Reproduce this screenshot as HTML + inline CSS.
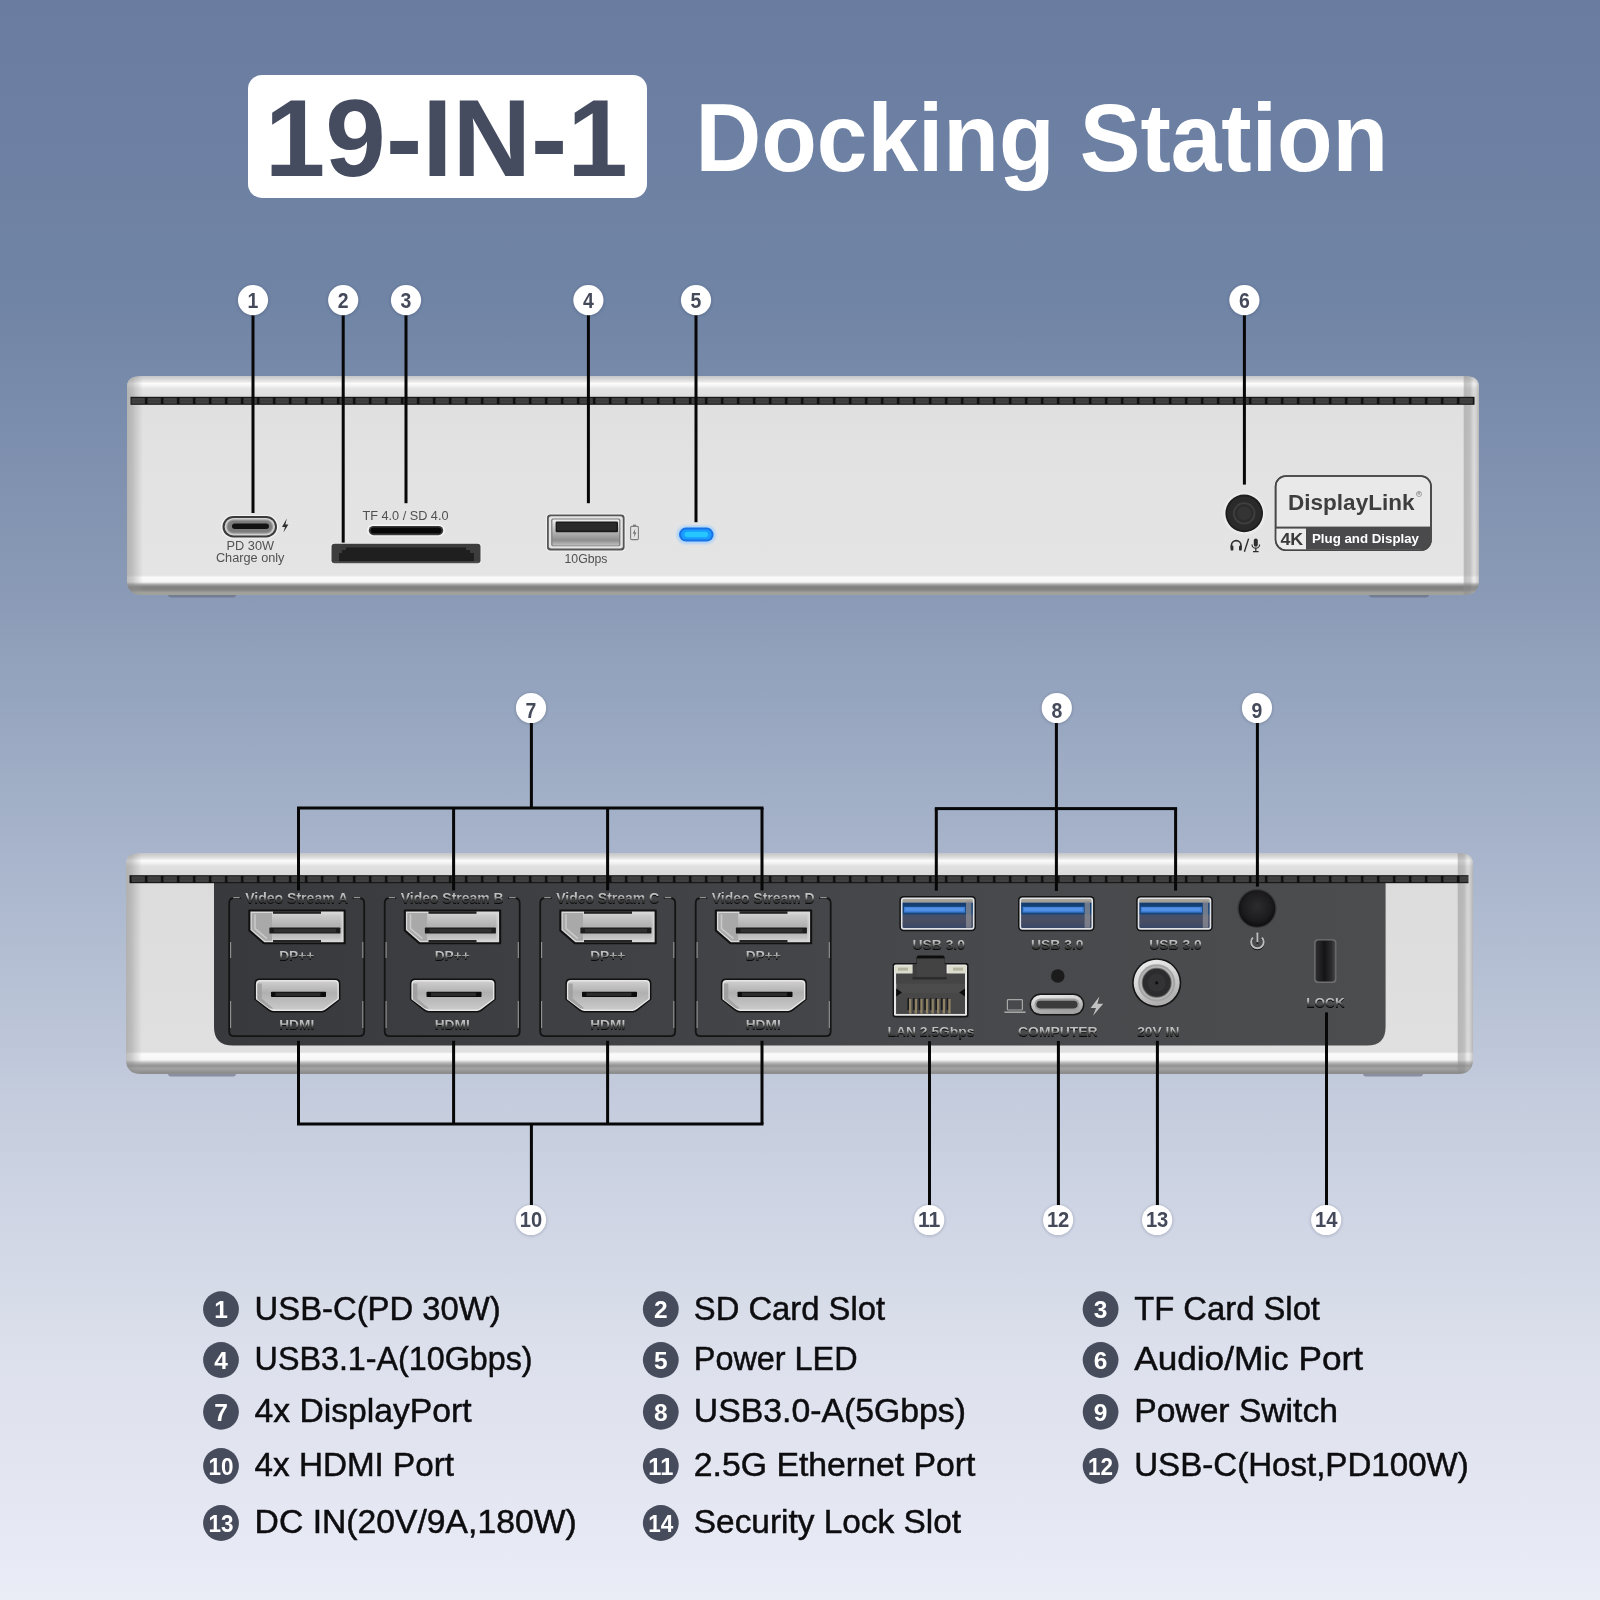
<!DOCTYPE html>
<html><head><meta charset="utf-8">
<style>
html,body{margin:0;padding:0;width:1600px;height:1600px;overflow:hidden;}
body{background:linear-gradient(180deg,#6a7da1 0px,#7084a5 300px,#8b9bb7 600px,#a7b4cb 850px,#c4ccdd 1100px,#dce0ec 1350px,#eaecf6 1600px);font-family:"Liberation Sans",sans-serif;}
svg{position:absolute;left:0;top:0;will-change:transform;}
text{font-family:"Liberation Sans",sans-serif;}
</style></head><body>
<svg width="1600" height="1600" viewBox="0 0 1600 1600">
<defs>
<linearGradient id="bodyV1" gradientUnits="userSpaceOnUse" x1="0" y1="376" x2="0" y2="596">
 <stop offset="0" stop-color="#c2c4c6"/>
 <stop offset="0.012" stop-color="#d4d4d4"/>
 <stop offset="0.024" stop-color="#e6e6e6"/>
 <stop offset="0.034" stop-color="#fbfbfb"/>
 <stop offset="0.044" stop-color="#f4f4f4"/>
 <stop offset="0.058" stop-color="#e4e4e4"/>
 <stop offset="0.095" stop-color="#dedede"/>
 <stop offset="0.14" stop-color="#e0e0e0"/>
 <stop offset="0.5" stop-color="#e3e3e3"/>
 <stop offset="0.905" stop-color="#e4e4e4"/>
 <stop offset="0.916" stop-color="#fbfbfb"/>
 <stop offset="0.936" stop-color="#f6f6f6"/>
 <stop offset="0.948" stop-color="#a6a6a6"/>
 <stop offset="0.958" stop-color="#808080"/>
 <stop offset="0.972" stop-color="#848484"/>
 <stop offset="0.984" stop-color="#a0a09a"/>
 <stop offset="1" stop-color="#a4a49e"/>
</linearGradient>
<linearGradient id="bodyV2" gradientUnits="userSpaceOnUse" x1="0" y1="853" x2="0" y2="1075">
 <stop offset="0" stop-color="#c2c4c6"/>
 <stop offset="0.012" stop-color="#d2d2d2"/>
 <stop offset="0.024" stop-color="#e4e4e4"/>
 <stop offset="0.034" stop-color="#fbfbfb"/>
 <stop offset="0.045" stop-color="#f2f2f2"/>
 <stop offset="0.060" stop-color="#e0e0e0"/>
 <stop offset="0.10" stop-color="#dadada"/>
 <stop offset="0.14" stop-color="#dcdcdc"/>
 <stop offset="0.5" stop-color="#dedede"/>
 <stop offset="0.895" stop-color="#e0e0e0"/>
 <stop offset="0.905" stop-color="#fbfbfb"/>
 <stop offset="0.932" stop-color="#f6f6f6"/>
 <stop offset="0.946" stop-color="#b4b4b4"/>
 <stop offset="0.958" stop-color="#929292"/>
 <stop offset="0.972" stop-color="#a2a2a2"/>
 <stop offset="0.988" stop-color="#8e8e8e"/>
 <stop offset="1" stop-color="#8c8c8e"/>
</linearGradient>
<linearGradient id="bevL" x1="0" y1="0" x2="1" y2="0">
 <stop offset="0" stop-color="#8c8c8c" stop-opacity="0.55"/>
 <stop offset="0.35" stop-color="#8c8c8c" stop-opacity="0.42"/>
 <stop offset="0.7" stop-color="#9a9a9a" stop-opacity="0.22"/>
 <stop offset="1" stop-color="#a0a0a0" stop-opacity="0"/>
</linearGradient>
<linearGradient id="bevR" x1="1" y1="0" x2="0" y2="0">
 <stop offset="0" stop-color="#8c8c8c" stop-opacity="0.5"/>
 <stop offset="0.3" stop-color="#c0c0c0" stop-opacity="0.2"/>
 <stop offset="0.55" stop-color="#8e8e8e" stop-opacity="0.42"/>
 <stop offset="0.9" stop-color="#8c8c8c" stop-opacity="0.5"/>
 <stop offset="1" stop-color="#8c8c8c" stop-opacity="0"/>
</linearGradient>
<pattern id="vent1" width="16" height="8" patternUnits="userSpaceOnUse" patternTransform="translate(130,396.8)">
 <rect x="0" y="0" width="16" height="8" fill="#111111"/>
 <rect x="1.6" y="1.1" width="13.2" height="5.8" fill="#424242"/>
 <rect x="1.6" y="3.4" width="13.2" height="1.2" fill="#383838"/>
</pattern>
<pattern id="vent2" width="16" height="8" patternUnits="userSpaceOnUse" patternTransform="translate(130,875.2)">
 <rect x="0" y="0" width="16" height="8" fill="#111111"/>
 <rect x="1.6" y="1.1" width="13.2" height="5.8" fill="#424242"/>
 <rect x="1.6" y="3.4" width="13.2" height="1.2" fill="#383838"/>
</pattern>
<filter id="sh" x="-30%" y="-30%" width="160%" height="160%">
 <feGaussianBlur in="SourceAlpha" stdDeviation="1.6"/>
 <feOffset dx="0" dy="1" result="o"/>
 <feComponentTransfer><feFuncA type="linear" slope="0.35"/></feComponentTransfer>
 <feMerge><feMergeNode/><feMergeNode in="SourceGraphic"/></feMerge>
</filter>
<filter id="blur1"><feGaussianBlur stdDeviation="1"/></filter>
<filter id="blur2"><feGaussianBlur stdDeviation="2"/></filter>
<filter id="blur05"><feGaussianBlur stdDeviation="0.6"/></filter>
<linearGradient id="silverV" x1="0" y1="0" x2="0" y2="1">
 <stop offset="0" stop-color="#e8e8e8"/>
 <stop offset="0.5" stop-color="#bdbdbd"/>
 <stop offset="1" stop-color="#dcdcdc"/>
</linearGradient>
<linearGradient id="usbaIn" x1="0" y1="0" x2="0" y2="1">
 <stop offset="0" stop-color="#f0f0f0"/>
 <stop offset="0.45" stop-color="#b8b8b8"/>
 <stop offset="0.8" stop-color="#8e8e8e"/>
 <stop offset="1" stop-color="#c0c0c0"/>
</linearGradient>
<linearGradient id="usb3In" x1="0" y1="0" x2="0" y2="1">
 <stop offset="0" stop-color="#3a78c8"/>
 <stop offset="0.45" stop-color="#2c5ea8"/>
 <stop offset="1" stop-color="#2a4f8c"/>
</linearGradient>

<linearGradient id="embG" x1="0" y1="0" x2="0" y2="1">
 <stop offset="0" stop-color="#cccccc"/>
 <stop offset="0.44" stop-color="#b8b8b8"/>
 <stop offset="0.56" stop-color="#747474"/>
 <stop offset="0.68" stop-color="#3c3c3c"/>
 <stop offset="1" stop-color="#262626"/>
</linearGradient>
<linearGradient id="panelG" gradientUnits="userSpaceOnUse" x1="214" y1="0" x2="1386" y2="0">
 <stop offset="0" stop-color="#38393c"/>
 <stop offset="0.35" stop-color="#404144"/>
 <stop offset="0.6" stop-color="#47484b"/>
 <stop offset="1" stop-color="#4c4d4f"/>
</linearGradient>
<linearGradient id="dpG" x1="0" y1="0" x2="0" y2="1">
 <stop offset="0" stop-color="#d6d6d6"/>
 <stop offset="0.5" stop-color="#bcbcbc"/>
 <stop offset="1" stop-color="#d2d2d2"/>
</linearGradient>
<linearGradient id="dpIn" x1="0" y1="0" x2="0" y2="1">
 <stop offset="0" stop-color="#cccccc"/>
 <stop offset="0.45" stop-color="#b2b2b2"/>
 <stop offset="0.8" stop-color="#b8b8b8"/>
 <stop offset="1" stop-color="#c8c8c8"/>
</linearGradient>
<linearGradient id="hdG" x1="0" y1="0" x2="0" y2="1">
 <stop offset="0" stop-color="#cecece"/>
 <stop offset="0.4" stop-color="#b0b0b0"/>
 <stop offset="0.75" stop-color="#bebebe"/>
 <stop offset="1" stop-color="#cacaca"/>
</linearGradient>
<linearGradient id="u3G" x1="0" y1="0" x2="0" y2="1">
 <stop offset="0" stop-color="#aaa69c"/>
 <stop offset="0.1" stop-color="#a29e96"/>
 <stop offset="0.15" stop-color="#143d72"/>
 <stop offset="0.5" stop-color="#174679"/>
 <stop offset="0.56" stop-color="#46506a"/>
 <stop offset="0.75" stop-color="#4a4e62"/>
 <stop offset="1" stop-color="#384868"/>
</linearGradient>
<linearGradient id="ucG" x1="0" y1="0" x2="0.3" y2="1">
 <stop offset="0" stop-color="#f0f0f0"/>
 <stop offset="0.5" stop-color="#c9c9c9"/>
 <stop offset="1" stop-color="#a2a2a2"/>
</linearGradient>
<linearGradient id="dcS" x1="0" y1="0" x2="0.4" y2="1">
 <stop offset="0" stop-color="#f2f2f2"/>
 <stop offset="0.5" stop-color="#d6d6d6"/>
 <stop offset="1" stop-color="#b0b0b0"/>
</linearGradient>
<linearGradient id="lockG" x1="0" y1="0" x2="1" y2="0">
 <stop offset="0" stop-color="#2e2e30"/>
 <stop offset="0.45" stop-color="#141416"/>
 <stop offset="0.8" stop-color="#2a2a2c"/>
 <stop offset="1" stop-color="#48484a"/>
</linearGradient>
<radialGradient id="jack" cx="0.5" cy="0.5" r="0.5">
 <stop offset="0" stop-color="#2a2a2a"/>
 <stop offset="0.42" stop-color="#2e2e2e"/>
 <stop offset="0.5" stop-color="#4a4a4a"/>
 <stop offset="0.58" stop-color="#1a1a1a"/>
 <stop offset="1" stop-color="#141414"/>
</radialGradient>
<radialGradient id="pwr" cx="0.5" cy="0.45" r="0.55">
 <stop offset="0" stop-color="#2c2c2e"/>
 <stop offset="0.7" stop-color="#1c1c1e"/>
 <stop offset="1" stop-color="#0e0e10"/>
</radialGradient>
<radialGradient id="dcring" cx="0.5" cy="0.5" r="0.5">
 <stop offset="0" stop-color="#111"/>
 <stop offset="0.1" stop-color="#555"/>
 <stop offset="0.16" stop-color="#2a2a2a"/>
 <stop offset="0.52" stop-color="#4a4a4c"/>
 <stop offset="0.58" stop-color="#8a8a8a"/>
 <stop offset="0.66" stop-color="#e4e4e4"/>
 <stop offset="0.86" stop-color="#cfcfcf"/>
 <stop offset="0.95" stop-color="#9a9a9a"/>
 <stop offset="1" stop-color="#2a2a2c"/>
</radialGradient>
</defs>
<g id="title">
<rect x="248" y="75" width="399" height="123" rx="14" ry="14" fill="#ffffff"/>
<text x="264.8" y="176" font-size="110" font-weight="bold" fill="#454c60" textLength="363" lengthAdjust="spacingAndGlyphs">19-IN-1</text>
<text x="695.5" y="171.4" font-size="96" font-weight="bold" fill="#ffffff" textLength="692.6" lengthAdjust="spacingAndGlyphs">Docking Station</text>
</g>
<g id="dev1"><rect x="168" y="591" width="68" height="6.4" rx="3" fill="#646a7c" opacity="0.6" filter="url(#blur05)"/><rect x="1369" y="591" width="60" height="6.4" rx="3" fill="#646a7c" opacity="0.6" filter="url(#blur05)"/><clipPath id="clip376"><path d="M141,376 H1465 Q1479,376 1479,387 V580 Q1479,595 1464,595 H142 Q127,595 127,580 V387 Q127,376 141,376 Z"/></clipPath><g clip-path="url(#clip376)"><rect x="127" y="376" width="1352" height="219" fill="url(#bodyV1)"/><rect x="127" y="376" width="16" height="219" fill="url(#bevL)"/><rect x="1463" y="376" width="16" height="219" fill="url(#bevR)"/><rect x="130.5" y="396.8" width="1344" height="8.0" fill="url(#vent1)"/></g>
<!-- USB-C front -->
<rect x="221" y="515" width="57.5" height="23.5" rx="11.7" fill="#ffffff" opacity="0.55" filter="url(#blur05)"/>
<rect x="222.5" y="516" width="54.5" height="21.4" rx="10.7" fill="#3b3b3b"/>
<rect x="224.6" y="518" width="50.4" height="17.4" rx="8.7" fill="#cfcfcf"/>
<rect x="226.4" y="519.6" width="46.8" height="14.2" rx="7.1" fill="#9a9a9a"/>
<rect x="227.6" y="520.8" width="44.4" height="11.8" rx="5.9" fill="#7d7d7d"/>
<rect x="232" y="523.6" width="37" height="5.4" rx="2.7" fill="#131313"/>
<path d="M286.8,518.6 L282,527 H285 L283.4,532.6 L288.4,524.4 H285.4 Z" fill="#2e2e2e"/>
<text x="250.3" y="550" font-size="12.5" text-anchor="middle" fill="#525252" textLength="47.5" lengthAdjust="spacingAndGlyphs">PD 30W</text>
<text x="250.2" y="561.6" font-size="12.5" text-anchor="middle" fill="#525252" textLength="68.5" lengthAdjust="spacingAndGlyphs">Charge only</text>
<!-- SD slot -->
<rect x="330.5" y="543" width="151" height="21" rx="3.5" fill="#f4f4f4" opacity="0.7" filter="url(#blur05)"/>
<rect x="331.5" y="543.8" width="149" height="19.4" rx="3" fill="#3d3d3d"/>
<path d="M339,561.5 V553 H342 V550 H346 V547.5 H466 V550 H470 V553 H474 V561.5 Z" fill="#1f1f1f"/>
<rect x="333" y="561.4" width="146" height="1.4" fill="#585858" opacity="0.7"/>
<!-- TF slot -->
<rect x="367" y="524.6" width="78" height="12" rx="6" fill="#ffffff" opacity="0.6" filter="url(#blur05)"/>
<rect x="368.8" y="526" width="74.4" height="9.2" rx="4.6" fill="#3a3a3a"/>
<rect x="370.6" y="527.4" width="70.8" height="6.2" rx="3.1" fill="#080808"/>
<text x="362.5" y="519.6" font-size="13" fill="#505050" textLength="86" lengthAdjust="spacingAndGlyphs">TF 4.0 / SD 4.0</text>
<!-- USB-A front -->
<rect x="546" y="513.4" width="79.6" height="38" rx="4" fill="#ffffff" opacity="0.5" filter="url(#blur05)"/>
<rect x="547" y="514.4" width="77.6" height="36" rx="3.4" fill="#565656"/>
<rect x="548.8" y="516.2" width="74" height="32.4" rx="2.4" fill="#e4e4e4"/>
<rect x="551.2" y="518.6" width="69.2" height="27.6" rx="1.6" fill="#7a7a7a"/>
<rect x="552.4" y="519.6" width="66.8" height="25.8" rx="1.2" fill="url(#usbaIn)"/>
<rect x="555.6" y="521.6" width="62.4" height="10.6" rx="1.2" fill="#1b1b1b"/>
<rect x="557" y="523" width="59.6" height="7.6" rx="1" fill="#2b2b2b"/>
<!-- battery icon -->
<rect x="630.6" y="526.4" width="7.8" height="13.2" rx="1.2" fill="none" stroke="#7d7d7d" stroke-width="1.1"/>
<rect x="633" y="524.6" width="3" height="1.8" fill="#7d7d7d"/>
<path d="M635.4,528.6 L632.8,533.4 H634.6 L633.8,537.4 L636.4,532.4 H634.6 Z" fill="#666"/>
<text x="586" y="562.7" font-size="13" text-anchor="middle" fill="#505050" textLength="43" lengthAdjust="spacingAndGlyphs">10Gbps</text>
<!-- LED -->
<rect x="676.5" y="525.5" width="39.5" height="18.5" rx="9.2" fill="#9ccfff" opacity="0.75" filter="url(#blur1)"/>
<rect x="679" y="527.6" width="34.6" height="14" rx="7" fill="#1972e6"/>
<rect x="681" y="529.6" width="30.6" height="10" rx="5" fill="#189cff"/>
<rect x="684.6" y="531.8" width="23.4" height="5.4" rx="2.7" fill="#26c6ff" filter="url(#blur05)"/>
<!-- audio jack -->
<circle cx="1244.2" cy="513.6" r="20.4" fill="#ffffff" opacity="0.5" filter="url(#blur1)"/>
<circle cx="1244.2" cy="513.4" r="18.8" fill="#1d1d1d"/>
<circle cx="1244.2" cy="513.4" r="17" fill="#2a2a2a"/>
<circle cx="1244.2" cy="513.4" r="11.2" fill="#3f3f3f"/>
<circle cx="1244.2" cy="513.4" r="9.4" fill="#2c2c2c"/>
<circle cx="1244.2" cy="513.4" r="7" fill="#343434"/>
<!-- headphone/mic -->
<g fill="none" stroke="#2e2e2e" stroke-width="1.6" stroke-linecap="round">
<path d="M1231.4,547.6 V545.4 A4.8,4.8 0 0 1 1241,545.4 V547.6"/>
</g>
<rect x="1230.6" y="545.6" width="2.8" height="5" rx="1.2" fill="#2e2e2e"/>
<rect x="1239" y="545.6" width="2.8" height="5" rx="1.2" fill="#2e2e2e"/>
<path d="M1248.6,538.6 L1244.4,551.8" stroke="#2e2e2e" stroke-width="1.4" fill="none"/>
<rect x="1253.8" y="538.4" width="4" height="8.4" rx="2" fill="#2e2e2e"/>
<path d="M1252,544.4 A3.8,3.8 0 0 0 1259.6,544.4 M1255.8,548.4 V551.2 M1253,551.6 H1258.6" stroke="#2e2e2e" stroke-width="1.2" fill="none"/>
<!-- DisplayLink badge -->
<clipPath id="dlc"><rect x="1276" y="476.6" width="154.4" height="73" rx="9.6"/></clipPath>
<rect x="1275.6" y="476" width="155.4" height="74.2" rx="10.4" fill="#e9e9e9" stroke="#474747" stroke-width="1.6"/>
<g clip-path="url(#dlc)">
<rect x="1275" y="526.6" width="158" height="26" fill="#4a4a4c"/>
<rect x="1275" y="528.6" width="31" height="24" fill="#ececec"/>
</g>
<rect x="1275.6" y="476" width="155.4" height="74.2" rx="10.4" fill="none" stroke="#474747" stroke-width="1.6"/>
<text x="1288" y="510" font-size="21.6" font-weight="bold" fill="#3e3e3e" textLength="126.5" lengthAdjust="spacingAndGlyphs">DisplayLink</text>
<circle cx="1419" cy="494" r="2.6" fill="none" stroke="#8a8a8a" stroke-width="0.7"/>
<text x="1419" y="495.4" font-size="4" font-weight="bold" text-anchor="middle" fill="#8a8a8a">R</text>
<text x="1280.4" y="545.3" font-size="16.6" font-weight="bold" fill="#3a3a3a" textLength="22.8" lengthAdjust="spacingAndGlyphs">4K</text>
<text x="1312" y="543.3" font-size="13" font-weight="bold" fill="#ffffff" textLength="107" lengthAdjust="spacingAndGlyphs">Plug and Display</text>
</g>
<g id="dev2"><rect x="168" y="1070" width="68" height="6.4" rx="3" fill="#646a7c" opacity="0.6" filter="url(#blur05)"/><rect x="1363" y="1070" width="60" height="6.4" rx="3" fill="#646a7c" opacity="0.6" filter="url(#blur05)"/><clipPath id="clip853"><path d="M140,853 H1459 Q1473,853 1473,864 V1059 Q1473,1074 1458,1074 H141 Q126,1074 126,1059 V864 Q126,853 140,853 Z"/></clipPath><g clip-path="url(#clip853)"><rect x="126" y="853" width="1347" height="221" fill="url(#bodyV2)"/><path d="M214,883 H1385.6 V1027 Q1385.6,1045.6 1367,1045.6 H233 Q214,1045.6 214,1027 Z" fill="url(#panelG)"/><rect x="126" y="853" width="16" height="221" fill="url(#bevL)"/><rect x="1457" y="853" width="16" height="221" fill="url(#bevR)"/><rect x="129.5" y="875.2" width="1339" height="8.0" fill="url(#vent2)"/></g><path d="M240.7,898.2 H234.2 Q229.2,898.2 229.2,903.2 V1031.2 Q229.2,1036.2 234.2,1036.2 H359.2 Q364.2,1036.2 364.2,1031.2 V903.2 Q364.2,898.2 359.2,898.2 H352.7" fill="none" stroke="#141414" stroke-width="1.8"/><path d="M233.2,897.6 H239.7 M353.7,897.6 H360.2" stroke="#a4a4a4" stroke-width="1.1" fill="none" opacity="0.85"/><path d="M230.6,942 V958 M230.6,1001 V1028 M362.8,942 V958 M362.8,1001 V1028" stroke="#a4a4a4" stroke-width="1.1" fill="none" opacity="0.85"/><text x="296.7" y="903.6999999999999" font-size="14" font-weight="bold" text-anchor="middle" fill="#0c0c0c" textLength="103" lengthAdjust="spacingAndGlyphs">Video Stream A</text><text x="296.7" y="902.8" font-size="14" font-weight="bold" text-anchor="middle" fill="url(#embG)" textLength="103" lengthAdjust="spacingAndGlyphs">Video Stream A</text><path d="M249.0,910.2 H345.0 V943.6 H264.0 L249.0,930.6 Z" fill="#111" stroke="#111" stroke-width="1.4" stroke-linejoin="round"/><path d="M250.4,911.6 H343.6 V942.2 H264.4 L250.4,930.1 Z" fill="#d9d9d9"/><path d="M251.8,913.0 H342.2 V940.8000000000001 H265.0 L251.8,929.6 Z" fill="url(#dpG)"/><rect x="273.0" y="911.2" width="48" height="2.6" fill="#242424"/><rect x="273.0" y="940.0" width="48" height="2.6" fill="#242424"/><path d="M251.8,913.0 H272.0 V940.8000000000001 H265.0 L251.8,929.6 Z" fill="#a9a9a9"/><path d="M255.0,914.2 V928.6 L267.0,938.6" fill="none" stroke="#c9c9c9" stroke-width="1.6"/><rect x="272.0" y="914.6" width="68.6" height="24.599999999999998" fill="url(#dpIn)"/><rect x="269.4" y="927.6" width="71" height="6" rx="0.6" fill="#1c1c1c"/><rect x="274.0" y="928.8000000000001" width="62" height="3.6" fill="#303030"/><text x="296.7" y="961.0999999999999" font-size="13.5" font-weight="bold" text-anchor="middle" fill="#0c0c0c" textLength="35" lengthAdjust="spacingAndGlyphs">DP++</text><text x="296.7" y="960.1999999999999" font-size="13.5" font-weight="bold" text-anchor="middle" fill="url(#embG)" textLength="35" lengthAdjust="spacingAndGlyphs">DP++</text><path d="M259.4,978.6 H335.4 Q340.4,978.6 340.4,983.6 V999.6 L326.79999999999995,1010.6 Q325.0,1012.4 322.4,1012.4 H272.4 Q269.79999999999995,1012.4 268.0,1010.6 L254.39999999999998,999.6 V983.6 Q254.39999999999998,978.6 259.4,978.6 Z" fill="#111"/><path d="M259.9,980.1 H334.9 Q338.9,980.1 338.9,984.1 V999.15 L326.04999999999995,1009.1 Q324.25,1010.9 321.65,1010.9 H273.15 Q270.54999999999995,1010.9 268.75,1009.1 L255.89999999999998,999.15 V984.1 Q255.89999999999998,980.1 259.9,980.1 Z" fill="#e6e6e6"/><path d="M260.49999999999994,981.5 H334.3 Q337.5,981.5 337.5,984.7 V998.73 L325.34999999999997,1007.7 Q323.55,1009.5 320.95,1009.5 H273.84999999999997 Q271.24999999999994,1009.5 269.45,1007.7 L257.29999999999995,998.73 V984.7 Q257.29999999999995,981.5 260.49999999999994,981.5 Z" fill="url(#hdG)"/><path d="M257.4,983.6 V999.6 L269.4,1008.4 H273.4 L261.79999999999995,998.6 V983.6 Z" fill="#9c9c9c" opacity="0.8"/><rect x="271.0" y="991.8000000000001" width="55" height="5.2" rx="0.8" fill="#0c0c0c"/><rect x="275.4" y="992.6" width="45" height="3.4" fill="#2c2c2c"/><text x="296.7" y="1030.1000000000001" font-size="13.5" font-weight="bold" text-anchor="middle" fill="#0c0c0c" textLength="35" lengthAdjust="spacingAndGlyphs">HDMI</text><text x="296.7" y="1029.2" font-size="13.5" font-weight="bold" text-anchor="middle" fill="url(#embG)" textLength="35" lengthAdjust="spacingAndGlyphs">HDMI</text><path d="M396.2,898.2 H389.7 Q384.7,898.2 384.7,903.2 V1031.2 Q384.7,1036.2 389.7,1036.2 H514.7 Q519.7,1036.2 519.7,1031.2 V903.2 Q519.7,898.2 514.7,898.2 H508.2" fill="none" stroke="#141414" stroke-width="1.8"/><path d="M388.7,897.6 H395.2 M509.2,897.6 H515.7" stroke="#a4a4a4" stroke-width="1.1" fill="none" opacity="0.85"/><path d="M386.09999999999997,942 V958 M386.09999999999997,1001 V1028 M518.3000000000001,942 V958 M518.3000000000001,1001 V1028" stroke="#a4a4a4" stroke-width="1.1" fill="none" opacity="0.85"/><text x="452.2" y="903.6999999999999" font-size="14" font-weight="bold" text-anchor="middle" fill="#0c0c0c" textLength="103" lengthAdjust="spacingAndGlyphs">Video Stream B</text><text x="452.2" y="902.8" font-size="14" font-weight="bold" text-anchor="middle" fill="url(#embG)" textLength="103" lengthAdjust="spacingAndGlyphs">Video Stream B</text><path d="M404.5,910.2 H500.5 V943.6 H419.5 L404.5,930.6 Z" fill="#111" stroke="#111" stroke-width="1.4" stroke-linejoin="round"/><path d="M405.9,911.6 H499.1 V942.2 H419.9 L405.9,930.1 Z" fill="#d9d9d9"/><path d="M407.3,913.0 H497.7 V940.8000000000001 H420.5 L407.3,929.6 Z" fill="url(#dpG)"/><rect x="428.5" y="911.2" width="48" height="2.6" fill="#242424"/><rect x="428.5" y="940.0" width="48" height="2.6" fill="#242424"/><path d="M407.3,913.0 H427.5 V940.8000000000001 H420.5 L407.3,929.6 Z" fill="#a9a9a9"/><path d="M410.5,914.2 V928.6 L422.5,938.6" fill="none" stroke="#c9c9c9" stroke-width="1.6"/><rect x="427.5" y="914.6" width="68.6" height="24.599999999999998" fill="url(#dpIn)"/><rect x="424.9" y="927.6" width="71" height="6" rx="0.6" fill="#1c1c1c"/><rect x="429.5" y="928.8000000000001" width="62" height="3.6" fill="#303030"/><text x="452.2" y="961.0999999999999" font-size="13.5" font-weight="bold" text-anchor="middle" fill="#0c0c0c" textLength="35" lengthAdjust="spacingAndGlyphs">DP++</text><text x="452.2" y="960.1999999999999" font-size="13.5" font-weight="bold" text-anchor="middle" fill="url(#embG)" textLength="35" lengthAdjust="spacingAndGlyphs">DP++</text><path d="M414.9,978.6 H490.9 Q495.9,978.6 495.9,983.6 V999.6 L482.29999999999995,1010.6 Q480.5,1012.4 477.9,1012.4 H427.9 Q425.29999999999995,1012.4 423.5,1010.6 L409.9,999.6 V983.6 Q409.9,978.6 414.9,978.6 Z" fill="#111"/><path d="M415.4,980.1 H490.4 Q494.4,980.1 494.4,984.1 V999.15 L481.54999999999995,1009.1 Q479.75,1010.9 477.15,1010.9 H428.65 Q426.04999999999995,1010.9 424.25,1009.1 L411.4,999.15 V984.1 Q411.4,980.1 415.4,980.1 Z" fill="#e6e6e6"/><path d="M415.99999999999994,981.5 H489.8 Q493.0,981.5 493.0,984.7 V998.73 L480.84999999999997,1007.7 Q479.05,1009.5 476.45,1009.5 H429.34999999999997 Q426.74999999999994,1009.5 424.95,1007.7 L412.79999999999995,998.73 V984.7 Q412.79999999999995,981.5 415.99999999999994,981.5 Z" fill="url(#hdG)"/><path d="M412.9,983.6 V999.6 L424.9,1008.4 H428.9 L417.29999999999995,998.6 V983.6 Z" fill="#9c9c9c" opacity="0.8"/><rect x="426.5" y="991.8000000000001" width="55" height="5.2" rx="0.8" fill="#0c0c0c"/><rect x="430.9" y="992.6" width="45" height="3.4" fill="#2c2c2c"/><text x="452.2" y="1030.1000000000001" font-size="13.5" font-weight="bold" text-anchor="middle" fill="#0c0c0c" textLength="35" lengthAdjust="spacingAndGlyphs">HDMI</text><text x="452.2" y="1029.2" font-size="13.5" font-weight="bold" text-anchor="middle" fill="url(#embG)" textLength="35" lengthAdjust="spacingAndGlyphs">HDMI</text><path d="M551.7,898.2 H545.2 Q540.2,898.2 540.2,903.2 V1031.2 Q540.2,1036.2 545.2,1036.2 H670.2 Q675.2,1036.2 675.2,1031.2 V903.2 Q675.2,898.2 670.2,898.2 H663.7" fill="none" stroke="#141414" stroke-width="1.8"/><path d="M544.2,897.6 H550.7 M664.7,897.6 H671.2" stroke="#a4a4a4" stroke-width="1.1" fill="none" opacity="0.85"/><path d="M541.6,942 V958 M541.6,1001 V1028 M673.8000000000001,942 V958 M673.8000000000001,1001 V1028" stroke="#a4a4a4" stroke-width="1.1" fill="none" opacity="0.85"/><text x="607.7" y="903.6999999999999" font-size="14" font-weight="bold" text-anchor="middle" fill="#0c0c0c" textLength="103" lengthAdjust="spacingAndGlyphs">Video Stream C</text><text x="607.7" y="902.8" font-size="14" font-weight="bold" text-anchor="middle" fill="url(#embG)" textLength="103" lengthAdjust="spacingAndGlyphs">Video Stream C</text><path d="M560.0,910.2 H656.0 V943.6 H575.0 L560.0,930.6 Z" fill="#111" stroke="#111" stroke-width="1.4" stroke-linejoin="round"/><path d="M561.4,911.6 H654.6 V942.2 H575.4 L561.4,930.1 Z" fill="#d9d9d9"/><path d="M562.8,913.0 H653.2 V940.8000000000001 H576.0 L562.8,929.6 Z" fill="url(#dpG)"/><rect x="584.0" y="911.2" width="48" height="2.6" fill="#242424"/><rect x="584.0" y="940.0" width="48" height="2.6" fill="#242424"/><path d="M562.8,913.0 H583.0 V940.8000000000001 H576.0 L562.8,929.6 Z" fill="#a9a9a9"/><path d="M566.0,914.2 V928.6 L578.0,938.6" fill="none" stroke="#c9c9c9" stroke-width="1.6"/><rect x="583.0" y="914.6" width="68.6" height="24.599999999999998" fill="url(#dpIn)"/><rect x="580.4" y="927.6" width="71" height="6" rx="0.6" fill="#1c1c1c"/><rect x="585.0" y="928.8000000000001" width="62" height="3.6" fill="#303030"/><text x="607.7" y="961.0999999999999" font-size="13.5" font-weight="bold" text-anchor="middle" fill="#0c0c0c" textLength="35" lengthAdjust="spacingAndGlyphs">DP++</text><text x="607.7" y="960.1999999999999" font-size="13.5" font-weight="bold" text-anchor="middle" fill="url(#embG)" textLength="35" lengthAdjust="spacingAndGlyphs">DP++</text><path d="M570.4000000000001,978.6 H646.4000000000001 Q651.4000000000001,978.6 651.4000000000001,983.6 V999.6 L637.8000000000001,1010.6 Q636.0000000000001,1012.4 633.4000000000001,1012.4 H583.4000000000001 Q580.8000000000001,1012.4 579.0000000000001,1010.6 L565.4000000000001,999.6 V983.6 Q565.4000000000001,978.6 570.4000000000001,978.6 Z" fill="#111"/><path d="M570.9000000000001,980.1 H645.9000000000001 Q649.9000000000001,980.1 649.9000000000001,984.1 V999.15 L637.0500000000001,1009.1 Q635.2500000000001,1010.9 632.6500000000001,1010.9 H584.1500000000001 Q581.5500000000001,1010.9 579.7500000000001,1009.1 L566.9000000000001,999.15 V984.1 Q566.9000000000001,980.1 570.9000000000001,980.1 Z" fill="#e6e6e6"/><path d="M571.5000000000001,981.5 H645.3000000000001 Q648.5000000000001,981.5 648.5000000000001,984.7 V998.73 L636.35,1007.7 Q634.5500000000001,1009.5 631.95,1009.5 H584.8500000000001 Q582.2500000000001,1009.5 580.4500000000002,1007.7 L568.3000000000001,998.73 V984.7 Q568.3000000000001,981.5 571.5000000000001,981.5 Z" fill="url(#hdG)"/><path d="M568.4000000000001,983.6 V999.6 L580.4000000000001,1008.4 H584.4000000000001 L572.8000000000001,998.6 V983.6 Z" fill="#9c9c9c" opacity="0.8"/><rect x="582.0000000000001" y="991.8000000000001" width="55" height="5.2" rx="0.8" fill="#0c0c0c"/><rect x="586.4000000000001" y="992.6" width="45" height="3.4" fill="#2c2c2c"/><text x="607.7" y="1030.1000000000001" font-size="13.5" font-weight="bold" text-anchor="middle" fill="#0c0c0c" textLength="35" lengthAdjust="spacingAndGlyphs">HDMI</text><text x="607.7" y="1029.2" font-size="13.5" font-weight="bold" text-anchor="middle" fill="url(#embG)" textLength="35" lengthAdjust="spacingAndGlyphs">HDMI</text><path d="M707.2,898.2 H700.7 Q695.7,898.2 695.7,903.2 V1031.2 Q695.7,1036.2 700.7,1036.2 H825.7 Q830.7,1036.2 830.7,1031.2 V903.2 Q830.7,898.2 825.7,898.2 H819.2" fill="none" stroke="#141414" stroke-width="1.8"/><path d="M699.7,897.6 H706.2 M820.2,897.6 H826.7" stroke="#a4a4a4" stroke-width="1.1" fill="none" opacity="0.85"/><path d="M697.1,942 V958 M697.1,1001 V1028 M829.3000000000001,942 V958 M829.3000000000001,1001 V1028" stroke="#a4a4a4" stroke-width="1.1" fill="none" opacity="0.85"/><text x="763.2" y="903.6999999999999" font-size="14" font-weight="bold" text-anchor="middle" fill="#0c0c0c" textLength="103" lengthAdjust="spacingAndGlyphs">Video Stream D</text><text x="763.2" y="902.8" font-size="14" font-weight="bold" text-anchor="middle" fill="url(#embG)" textLength="103" lengthAdjust="spacingAndGlyphs">Video Stream D</text><path d="M715.5,910.2 H811.5 V943.6 H730.5 L715.5,930.6 Z" fill="#111" stroke="#111" stroke-width="1.4" stroke-linejoin="round"/><path d="M716.9,911.6 H810.1 V942.2 H730.9 L716.9,930.1 Z" fill="#d9d9d9"/><path d="M718.3,913.0 H808.7 V940.8000000000001 H731.5 L718.3,929.6 Z" fill="url(#dpG)"/><rect x="739.5" y="911.2" width="48" height="2.6" fill="#242424"/><rect x="739.5" y="940.0" width="48" height="2.6" fill="#242424"/><path d="M718.3,913.0 H738.5 V940.8000000000001 H731.5 L718.3,929.6 Z" fill="#a9a9a9"/><path d="M721.5,914.2 V928.6 L733.5,938.6" fill="none" stroke="#c9c9c9" stroke-width="1.6"/><rect x="738.5" y="914.6" width="68.6" height="24.599999999999998" fill="url(#dpIn)"/><rect x="735.9" y="927.6" width="71" height="6" rx="0.6" fill="#1c1c1c"/><rect x="740.5" y="928.8000000000001" width="62" height="3.6" fill="#303030"/><text x="763.2" y="961.0999999999999" font-size="13.5" font-weight="bold" text-anchor="middle" fill="#0c0c0c" textLength="35" lengthAdjust="spacingAndGlyphs">DP++</text><text x="763.2" y="960.1999999999999" font-size="13.5" font-weight="bold" text-anchor="middle" fill="url(#embG)" textLength="35" lengthAdjust="spacingAndGlyphs">DP++</text><path d="M725.9000000000001,978.6 H801.9000000000001 Q806.9000000000001,978.6 806.9000000000001,983.6 V999.6 L793.3000000000001,1010.6 Q791.5000000000001,1012.4 788.9000000000001,1012.4 H738.9000000000001 Q736.3000000000001,1012.4 734.5000000000001,1010.6 L720.9000000000001,999.6 V983.6 Q720.9000000000001,978.6 725.9000000000001,978.6 Z" fill="#111"/><path d="M726.4000000000001,980.1 H801.4000000000001 Q805.4000000000001,980.1 805.4000000000001,984.1 V999.15 L792.5500000000001,1009.1 Q790.7500000000001,1010.9 788.1500000000001,1010.9 H739.6500000000001 Q737.0500000000001,1010.9 735.2500000000001,1009.1 L722.4000000000001,999.15 V984.1 Q722.4000000000001,980.1 726.4000000000001,980.1 Z" fill="#e6e6e6"/><path d="M727.0000000000001,981.5 H800.8000000000001 Q804.0000000000001,981.5 804.0000000000001,984.7 V998.73 L791.85,1007.7 Q790.0500000000001,1009.5 787.45,1009.5 H740.3500000000001 Q737.7500000000001,1009.5 735.9500000000002,1007.7 L723.8000000000001,998.73 V984.7 Q723.8000000000001,981.5 727.0000000000001,981.5 Z" fill="url(#hdG)"/><path d="M723.9000000000001,983.6 V999.6 L735.9000000000001,1008.4 H739.9000000000001 L728.3000000000001,998.6 V983.6 Z" fill="#9c9c9c" opacity="0.8"/><rect x="737.5000000000001" y="991.8000000000001" width="55" height="5.2" rx="0.8" fill="#0c0c0c"/><rect x="741.9000000000001" y="992.6" width="45" height="3.4" fill="#2c2c2c"/><text x="763.2" y="1030.1000000000001" font-size="13.5" font-weight="bold" text-anchor="middle" fill="#0c0c0c" textLength="35" lengthAdjust="spacingAndGlyphs">HDMI</text><text x="763.2" y="1029.2" font-size="13.5" font-weight="bold" text-anchor="middle" fill="url(#embG)" textLength="35" lengthAdjust="spacingAndGlyphs">HDMI</text><rect x="899.4" y="896" width="76.6" height="35.2" rx="4.2" fill="#131313"/><rect x="900.9" y="897.5" width="73.6" height="32.2" rx="3" fill="#dfe2e6"/><rect x="902.5" y="899.1" width="70.39999999999999" height="29.000000000000004" rx="1.4" fill="url(#u3G)"/><rect x="966.0" y="901" width="5.4" height="26.800000000000004" fill="#8e8e94" opacity="0.75"/><rect x="904.0" y="906.8" width="61.199999999999996" height="5.8" fill="#3f7fd6"/><rect x="905.4" y="907.8" width="58.199999999999996" height="3" fill="#5b97ea" opacity="0.85"/><text x="938.6999999999999" y="949.5" font-size="13.5" font-weight="bold" text-anchor="middle" fill="#0c0c0c" textLength="52.6" lengthAdjust="spacingAndGlyphs">USB 3.0</text><text x="938.6999999999999" y="948.6" font-size="13.5" font-weight="bold" text-anchor="middle" fill="url(#embG)" textLength="52.6" lengthAdjust="spacingAndGlyphs">USB 3.0</text><rect x="1018" y="896" width="76.6" height="35.2" rx="4.2" fill="#131313"/><rect x="1019.5" y="897.5" width="73.6" height="32.2" rx="3" fill="#dfe2e6"/><rect x="1021.1" y="899.1" width="70.39999999999999" height="29.000000000000004" rx="1.4" fill="url(#u3G)"/><rect x="1084.6" y="901" width="5.4" height="26.800000000000004" fill="#8e8e94" opacity="0.75"/><rect x="1022.6" y="906.8" width="61.199999999999996" height="5.8" fill="#3f7fd6"/><rect x="1024" y="907.8" width="58.199999999999996" height="3" fill="#5b97ea" opacity="0.85"/><text x="1057.3" y="949.5" font-size="13.5" font-weight="bold" text-anchor="middle" fill="#0c0c0c" textLength="52.6" lengthAdjust="spacingAndGlyphs">USB 3.0</text><text x="1057.3" y="948.6" font-size="13.5" font-weight="bold" text-anchor="middle" fill="url(#embG)" textLength="52.6" lengthAdjust="spacingAndGlyphs">USB 3.0</text><rect x="1136.2" y="896" width="76.6" height="35.2" rx="4.2" fill="#131313"/><rect x="1137.7" y="897.5" width="73.6" height="32.2" rx="3" fill="#dfe2e6"/><rect x="1139.3" y="899.1" width="70.39999999999999" height="29.000000000000004" rx="1.4" fill="url(#u3G)"/><rect x="1202.8" y="901" width="5.4" height="26.800000000000004" fill="#8e8e94" opacity="0.75"/><rect x="1140.8" y="906.8" width="61.199999999999996" height="5.8" fill="#3f7fd6"/><rect x="1142.2" y="907.8" width="58.199999999999996" height="3" fill="#5b97ea" opacity="0.85"/><text x="1175.5" y="949.5" font-size="13.5" font-weight="bold" text-anchor="middle" fill="#0c0c0c" textLength="52.6" lengthAdjust="spacingAndGlyphs">USB 3.0</text><text x="1175.5" y="948.6" font-size="13.5" font-weight="bold" text-anchor="middle" fill="url(#embG)" textLength="52.6" lengthAdjust="spacingAndGlyphs">USB 3.0</text>
<!-- power button -->
<circle cx="1257" cy="908.5" r="19.6" fill="#2a2a2c" opacity="0.6" filter="url(#blur05)"/>
<circle cx="1257" cy="908.5" r="18.3" fill="url(#pwr)"/>
<path d="M1252.9,937.6 A6.3,6.3 0 1 0 1261.9,937.6" fill="none" stroke="#111" stroke-width="1.6" transform="translate(0,1.2)"/>
<path d="M1257.4,933.4 V942.6" stroke="#111" stroke-width="1.6" transform="translate(0,1.2)"/>
<path d="M1252.9,937.6 A6.3,6.3 0 1 0 1261.9,937.6" fill="none" stroke="#bdbdbd" stroke-width="1.9"/>
<path d="M1257.4,932.6 V942.2" stroke="#bdbdbd" stroke-width="1.9"/>
<!-- LAN -->
<rect x="916.6" y="955.6" width="28" height="10" rx="2" fill="#0d0d0d"/>
<rect x="892.6" y="963" width="76" height="54.4" rx="2.5" fill="#151515"/>
<rect x="894" y="964.6" width="73" height="51.2" rx="1.6" fill="#e6e6e6"/>
<rect x="896.2" y="973.6" width="68.8" height="40.2" fill="#4c4c4c"/>
<rect x="896.2" y="973.6" width="68.8" height="10" fill="#454545"/>
<rect x="896.2" y="993" width="68.8" height="20.8" fill="#474747"/>
<rect x="895" y="965.8" width="17.6" height="7.4" fill="#dcdccc"/><rect x="898" y="967.6" width="10" height="3" fill="#b4b4a0"/>
<rect x="948.4" y="965.8" width="17.6" height="7.4" fill="#dcdccc"/><rect x="953" y="967.6" width="10" height="3" fill="#b4b4a0"/>
<path d="M912.6,964 H946.6 V979.4 H912.6 Z" fill="#3e3e3e"/>
<path d="M917,958.4 H944.6 V977 H917 Z" fill="#434343"/>
<rect x="912.6" y="977" width="34" height="2.4" fill="#2c2c2c"/>
<path d="M896.2,988.6 L902,992.6 L896.2,996.6 Z" fill="#0d0d0d"/><path d="M965,988.6 L959.2,992.6 L965,996.6 Z" fill="#0d0d0d"/>
<g fill="#8f8264">
<rect x="909" y="999" width="2.4" height="14.6"/><rect x="914.6" y="999" width="2.4" height="14.6"/><rect x="920.2" y="999" width="2.4" height="14.6"/><rect x="925.8" y="999" width="2.4" height="14.6"/><rect x="931.4" y="999" width="2.4" height="14.6"/><rect x="937" y="999" width="2.4" height="14.6"/><rect x="942.6" y="999" width="2.4" height="14.6"/><rect x="948.2" y="999" width="2.4" height="14.6"/>
</g>
<g fill="#1c1c1c">
<rect x="907.4" y="998" width="1.6" height="12"/><rect x="913" y="998" width="1.6" height="12"/><rect x="918.6" y="998" width="1.6" height="12"/><rect x="924.2" y="998" width="1.6" height="12"/><rect x="929.8" y="998" width="1.6" height="12"/><rect x="935.4" y="998" width="1.6" height="12"/><rect x="941" y="998" width="1.6" height="12"/><rect x="946.6" y="998" width="1.6" height="12"/>
</g>
<text x="931" y="1037.1000000000001" font-size="13.5" font-weight="bold" text-anchor="middle" fill="#0c0c0c" textLength="87" lengthAdjust="spacingAndGlyphs">LAN 2.5Gbps</text><text x="931" y="1036.2" font-size="13.5" font-weight="bold" text-anchor="middle" fill="url(#embG)" textLength="87" lengthAdjust="spacingAndGlyphs">LAN 2.5Gbps</text>
<!-- USB-C rear -->
<circle cx="1057.8" cy="976" r="6.8" fill="#1b1b1b"/>
<rect x="1029.6" y="993.6" width="54.8" height="21.8" rx="10.9" fill="#161616"/>
<rect x="1031" y="995" width="52" height="19" rx="9.5" fill="url(#ucG)"/>
<rect x="1034.6" y="998.6" width="44.8" height="11.8" rx="5.9" fill="#9c9c9c"/>
<rect x="1036.4" y="1000.8" width="41.2" height="7.6" rx="3.8" fill="#3b3b3b"/>
<!-- laptop icon -->
<rect x="1007.4" y="999.6" width="15" height="10.4" rx="0.8" fill="none" stroke="#a6a6a6" stroke-width="1.2"/>
<path d="M1004.4,1012.2 H1025.6" stroke="#a6a6a6" stroke-width="1.6"/>
<!-- bolt -->
<path d="M1099.4,996.4 L1090.6,1008 H1096 L1093,1015.8 L1103.2,1003.8 H1097.4 Z" fill="#c2c2c2"/>
<text x="1057.8" y="1037.1000000000001" font-size="13.5" font-weight="bold" text-anchor="middle" fill="#0c0c0c" textLength="79.5" lengthAdjust="spacingAndGlyphs">COMPUTER</text><text x="1057.8" y="1036.2" font-size="13.5" font-weight="bold" text-anchor="middle" fill="url(#embG)" textLength="79.5" lengthAdjust="spacingAndGlyphs">COMPUTER</text>
<!-- DC -->
<circle cx="1156.7" cy="982.8" r="24.6" fill="#151515"/>
<circle cx="1156.7" cy="982.8" r="23" fill="url(#dcS)"/>
<circle cx="1156.7" cy="982.8" r="18.6" fill="#a4a4a4"/>
<circle cx="1156.7" cy="982.8" r="16.6" fill="#b8b8b8"/>
<circle cx="1156.7" cy="982.8" r="15" fill="#6a6a6a"/>
<circle cx="1156.7" cy="982.8" r="14" fill="#2c2c2e"/>
<circle cx="1156.7" cy="982.8" r="9" fill="#333335"/>
<circle cx="1156.7" cy="982.8" r="1.6" fill="#0e0e0e"/>
<text x="1158.3" y="1036.7000000000003" font-size="13.5" font-weight="bold" text-anchor="middle" fill="#0c0c0c" textLength="42.2" lengthAdjust="spacingAndGlyphs">20V IN</text><text x="1158.3" y="1035.8000000000002" font-size="13.5" font-weight="bold" text-anchor="middle" fill="url(#embG)" textLength="42.2" lengthAdjust="spacingAndGlyphs">20V IN</text>
<!-- lock -->
<rect x="1314.2" y="939.2" width="22.2" height="43.8" rx="3.8" fill="#707072"/>
<rect x="1315.6" y="940.4" width="19.6" height="41" rx="2.8" fill="url(#lockG)"/>
<text x="1325.5" y="1007.5" font-size="13.5" font-weight="bold" text-anchor="middle" fill="#0c0c0c" textLength="38.4" lengthAdjust="spacingAndGlyphs">LOCK</text><text x="1325.5" y="1006.6" font-size="13.5" font-weight="bold" text-anchor="middle" fill="url(#embG)" textLength="38.4" lengthAdjust="spacingAndGlyphs">LOCK</text></g>
<g id="callouts"><rect x="251.5" y="312" width="3" height="201" fill="#070707"/><circle cx="253" cy="300.6" r="16.2" fill="#2a3350" opacity="0.16" filter="url(#blur1)"/><circle cx="253" cy="300.1" r="15.1" fill="#ffffff"/><text x="253" y="307.9" font-size="21.4" font-weight="bold" text-anchor="middle" fill="#454a5b" textLength="10.8" lengthAdjust="spacingAndGlyphs">1</text><rect x="341.7" y="312" width="3" height="230.60000000000002" fill="#070707"/><circle cx="343.2" cy="300.6" r="16.2" fill="#2a3350" opacity="0.16" filter="url(#blur1)"/><circle cx="343.2" cy="300.1" r="15.1" fill="#ffffff"/><text x="343.2" y="307.9" font-size="21.4" font-weight="bold" text-anchor="middle" fill="#454a5b" textLength="10.8" lengthAdjust="spacingAndGlyphs">2</text><rect x="404.5" y="312" width="3" height="191.2" fill="#070707"/><circle cx="406" cy="300.6" r="16.2" fill="#2a3350" opacity="0.16" filter="url(#blur1)"/><circle cx="406" cy="300.1" r="15.1" fill="#ffffff"/><text x="406" y="307.9" font-size="21.4" font-weight="bold" text-anchor="middle" fill="#454a5b" textLength="10.8" lengthAdjust="spacingAndGlyphs">3</text><rect x="586.9" y="312" width="3" height="191.2" fill="#070707"/><circle cx="588.4" cy="300.6" r="16.2" fill="#2a3350" opacity="0.16" filter="url(#blur1)"/><circle cx="588.4" cy="300.1" r="15.1" fill="#ffffff"/><text x="588.4" y="307.9" font-size="21.4" font-weight="bold" text-anchor="middle" fill="#454a5b" textLength="10.8" lengthAdjust="spacingAndGlyphs">4</text><rect x="694.5" y="312" width="3" height="210.20000000000005" fill="#070707"/><circle cx="696" cy="300.6" r="16.2" fill="#2a3350" opacity="0.16" filter="url(#blur1)"/><circle cx="696" cy="300.1" r="15.1" fill="#ffffff"/><text x="696" y="307.9" font-size="21.4" font-weight="bold" text-anchor="middle" fill="#454a5b" textLength="10.8" lengthAdjust="spacingAndGlyphs">5</text><rect x="1242.9" y="312" width="3" height="172.60000000000002" fill="#070707"/><circle cx="1244.4" cy="300.6" r="16.2" fill="#2a3350" opacity="0.16" filter="url(#blur1)"/><circle cx="1244.4" cy="300.1" r="15.1" fill="#ffffff"/><text x="1244.4" y="307.9" font-size="21.4" font-weight="bold" text-anchor="middle" fill="#454a5b" textLength="10.8" lengthAdjust="spacingAndGlyphs">6</text><rect x="529.9" y="720" width="3" height="88" fill="#070707"/><rect x="297.0" y="806.5" width="466.5" height="3" fill="#070707"/><rect x="297.0" y="808" width="3" height="82.39999999999998" fill="#070707"/><rect x="452.1" y="808" width="3" height="82.39999999999998" fill="#070707"/><rect x="606.1" y="808" width="3" height="82.39999999999998" fill="#070707"/><rect x="760.5" y="808" width="3" height="82.39999999999998" fill="#070707"/><circle cx="531" cy="708.5" r="16.2" fill="#2a3350" opacity="0.16" filter="url(#blur1)"/><circle cx="531" cy="708" r="15.1" fill="#ffffff"/><text x="531" y="717.6999999999999" font-size="21.4" font-weight="bold" text-anchor="middle" fill="#454a5b" textLength="10.8" lengthAdjust="spacingAndGlyphs">7</text><rect x="1054.9" y="720" width="3" height="171" fill="#070707"/><rect x="934.8" y="807.1" width="242.29999999999995" height="3" fill="#070707"/><rect x="934.8" y="808.6" width="3" height="82.0" fill="#070707"/><rect x="1174.1" y="808.6" width="3" height="82.0" fill="#070707"/><circle cx="1056.8" cy="708.5" r="16.2" fill="#2a3350" opacity="0.16" filter="url(#blur1)"/><circle cx="1056.8" cy="708" r="15.1" fill="#ffffff"/><text x="1056.8" y="717.6999999999999" font-size="21.4" font-weight="bold" text-anchor="middle" fill="#454a5b" textLength="10.8" lengthAdjust="spacingAndGlyphs">8</text><rect x="1255.9" y="720" width="3" height="166.60000000000002" fill="#070707"/><circle cx="1257" cy="708.5" r="16.2" fill="#2a3350" opacity="0.16" filter="url(#blur1)"/><circle cx="1257" cy="708" r="15.1" fill="#ffffff"/><text x="1257" y="717.6999999999999" font-size="21.4" font-weight="bold" text-anchor="middle" fill="#454a5b" textLength="10.8" lengthAdjust="spacingAndGlyphs">9</text><rect x="297.0" y="1040.8" width="3" height="83.20000000000005" fill="#070707"/><rect x="452.1" y="1040.8" width="3" height="83.20000000000005" fill="#070707"/><rect x="606.1" y="1040.8" width="3" height="83.20000000000005" fill="#070707"/><rect x="760.5" y="1040.8" width="3" height="83.20000000000005" fill="#070707"/><rect x="297.0" y="1122.5" width="466.5" height="3" fill="#070707"/><rect x="529.9" y="1124" width="3" height="84" fill="#070707"/><circle cx="531" cy="1220.5" r="16.2" fill="#2a3350" opacity="0.16" filter="url(#blur1)"/><circle cx="531" cy="1220" r="15.1" fill="#ffffff"/><text x="531" y="1227.0" font-size="21.4" font-weight="bold" text-anchor="middle" fill="#454a5b" textLength="22.4" lengthAdjust="spacingAndGlyphs">10</text><rect x="928.0" y="1041.2" width="3" height="166.79999999999995" fill="#070707"/><circle cx="929.2" cy="1220.5" r="16.2" fill="#2a3350" opacity="0.16" filter="url(#blur1)"/><circle cx="929.2" cy="1220" r="15.1" fill="#ffffff"/><text x="929.2" y="1227.0" font-size="21.4" font-weight="bold" text-anchor="middle" fill="#454a5b" textLength="22.4" lengthAdjust="spacingAndGlyphs">11</text><rect x="1056.9" y="1041" width="3" height="167" fill="#070707"/><circle cx="1058.1000000000001" cy="1220.5" r="16.2" fill="#2a3350" opacity="0.16" filter="url(#blur1)"/><circle cx="1058.1000000000001" cy="1220" r="15.1" fill="#ffffff"/><text x="1058.1000000000001" y="1227.0" font-size="21.4" font-weight="bold" text-anchor="middle" fill="#454a5b" textLength="22.4" lengthAdjust="spacingAndGlyphs">12</text><rect x="1155.9" y="1040.8" width="3" height="167.20000000000005" fill="#070707"/><circle cx="1157.1000000000001" cy="1220.5" r="16.2" fill="#2a3350" opacity="0.16" filter="url(#blur1)"/><circle cx="1157.1000000000001" cy="1220" r="15.1" fill="#ffffff"/><text x="1157.1000000000001" y="1227.0" font-size="21.4" font-weight="bold" text-anchor="middle" fill="#454a5b" textLength="22.4" lengthAdjust="spacingAndGlyphs">13</text><rect x="1325.0" y="1012.4" width="3" height="195.60000000000002" fill="#070707"/><circle cx="1326.2" cy="1220.5" r="16.2" fill="#2a3350" opacity="0.16" filter="url(#blur1)"/><circle cx="1326.2" cy="1220" r="15.1" fill="#ffffff"/><text x="1326.2" y="1227.0" font-size="21.4" font-weight="bold" text-anchor="middle" fill="#454a5b" textLength="22.4" lengthAdjust="spacingAndGlyphs">14</text></g>
<g id="legend"><circle cx="221" cy="1309.2" r="17.9" fill="#474c5d"/><text x="221" y="1318.0" font-size="24.5" font-weight="bold" text-anchor="middle" fill="#ffffff">1</text><text x="254.6" y="1319.5" font-size="33.4" fill="#0d0d10" stroke="#0d0d10" stroke-width="0.5" textLength="246.0" lengthAdjust="spacingAndGlyphs">USB-C(PD 30W)</text><circle cx="660.8" cy="1309.2" r="17.9" fill="#474c5d"/><text x="660.8" y="1318.0" font-size="24.5" font-weight="bold" text-anchor="middle" fill="#ffffff">2</text><text x="693.8" y="1319.5" font-size="33.4" fill="#0d0d10" stroke="#0d0d10" stroke-width="0.5" textLength="191.2" lengthAdjust="spacingAndGlyphs">SD Card Slot</text><circle cx="1100.6" cy="1309.2" r="17.9" fill="#474c5d"/><text x="1100.6" y="1318.0" font-size="24.5" font-weight="bold" text-anchor="middle" fill="#ffffff">3</text><text x="1134.2" y="1319.5" font-size="33.4" fill="#0d0d10" stroke="#0d0d10" stroke-width="0.5" textLength="185.8" lengthAdjust="spacingAndGlyphs">TF Card Slot</text><circle cx="221" cy="1360" r="17.9" fill="#474c5d"/><text x="221" y="1368.8" font-size="24.5" font-weight="bold" text-anchor="middle" fill="#ffffff">4</text><text x="254.6" y="1370.3" font-size="33.4" fill="#0d0d10" stroke="#0d0d10" stroke-width="0.5" textLength="278.0" lengthAdjust="spacingAndGlyphs">USB3.1-A(10Gbps)</text><circle cx="660.8" cy="1360" r="17.9" fill="#474c5d"/><text x="660.8" y="1368.8" font-size="24.5" font-weight="bold" text-anchor="middle" fill="#ffffff">5</text><text x="693.8" y="1370.3" font-size="33.4" fill="#0d0d10" stroke="#0d0d10" stroke-width="0.5" textLength="163.8" lengthAdjust="spacingAndGlyphs">Power LED</text><circle cx="1100.6" cy="1360" r="17.9" fill="#474c5d"/><text x="1100.6" y="1368.8" font-size="24.5" font-weight="bold" text-anchor="middle" fill="#ffffff">6</text><text x="1134.2" y="1370.3" font-size="33.4" fill="#0d0d10" stroke="#0d0d10" stroke-width="0.5" textLength="228.8" lengthAdjust="spacingAndGlyphs">Audio/Mic Port</text><circle cx="221" cy="1411.8" r="17.9" fill="#474c5d"/><text x="221" y="1420.6" font-size="24.5" font-weight="bold" text-anchor="middle" fill="#ffffff">7</text><text x="254.6" y="1422.1" font-size="33.4" fill="#0d0d10" stroke="#0d0d10" stroke-width="0.5" textLength="217.0" lengthAdjust="spacingAndGlyphs">4x DisplayPort</text><circle cx="660.8" cy="1411.8" r="17.9" fill="#474c5d"/><text x="660.8" y="1420.6" font-size="24.5" font-weight="bold" text-anchor="middle" fill="#ffffff">8</text><text x="693.8" y="1422.1" font-size="33.4" fill="#0d0d10" stroke="#0d0d10" stroke-width="0.5" textLength="272.2" lengthAdjust="spacingAndGlyphs">USB3.0-A(5Gbps)</text><circle cx="1100.6" cy="1411.8" r="17.9" fill="#474c5d"/><text x="1100.6" y="1420.6" font-size="24.5" font-weight="bold" text-anchor="middle" fill="#ffffff">9</text><text x="1134.2" y="1422.1" font-size="33.4" fill="#0d0d10" stroke="#0d0d10" stroke-width="0.5" textLength="203.8" lengthAdjust="spacingAndGlyphs">Power Switch</text><circle cx="221" cy="1466" r="17.9" fill="#474c5d"/><text x="221" y="1474.8" font-size="24.5" font-weight="bold" text-anchor="middle" fill="#ffffff" textLength="25" lengthAdjust="spacingAndGlyphs">10</text><text x="254.6" y="1476.3" font-size="33.4" fill="#0d0d10" stroke="#0d0d10" stroke-width="0.5" textLength="199.4" lengthAdjust="spacingAndGlyphs">4x HDMI Port</text><circle cx="660.8" cy="1466" r="17.9" fill="#474c5d"/><text x="660.8" y="1474.8" font-size="24.5" font-weight="bold" text-anchor="middle" fill="#ffffff" textLength="25" lengthAdjust="spacingAndGlyphs">11</text><text x="693.8" y="1476.3" font-size="33.4" fill="#0d0d10" stroke="#0d0d10" stroke-width="0.5" textLength="281.6" lengthAdjust="spacingAndGlyphs">2.5G Ethernet Port</text><circle cx="1100.6" cy="1466" r="17.9" fill="#474c5d"/><text x="1100.6" y="1474.8" font-size="24.5" font-weight="bold" text-anchor="middle" fill="#ffffff" textLength="25" lengthAdjust="spacingAndGlyphs">12</text><text x="1134.2" y="1476.3" font-size="33.4" fill="#0d0d10" stroke="#0d0d10" stroke-width="0.5" textLength="334.6" lengthAdjust="spacingAndGlyphs">USB-C(Host,PD100W)</text><circle cx="221" cy="1523" r="17.9" fill="#474c5d"/><text x="221" y="1531.8" font-size="24.5" font-weight="bold" text-anchor="middle" fill="#ffffff" textLength="25" lengthAdjust="spacingAndGlyphs">13</text><text x="254.6" y="1533.3" font-size="33.4" fill="#0d0d10" stroke="#0d0d10" stroke-width="0.5" textLength="322.1" lengthAdjust="spacingAndGlyphs">DC IN(20V/9A,180W)</text><circle cx="660.8" cy="1523" r="17.9" fill="#474c5d"/><text x="660.8" y="1531.8" font-size="24.5" font-weight="bold" text-anchor="middle" fill="#ffffff" textLength="25" lengthAdjust="spacingAndGlyphs">14</text><text x="693.8" y="1533.3" font-size="33.4" fill="#0d0d10" stroke="#0d0d10" stroke-width="0.5" textLength="267.2" lengthAdjust="spacingAndGlyphs">Security Lock Slot</text></g>
</svg>
</body></html>
